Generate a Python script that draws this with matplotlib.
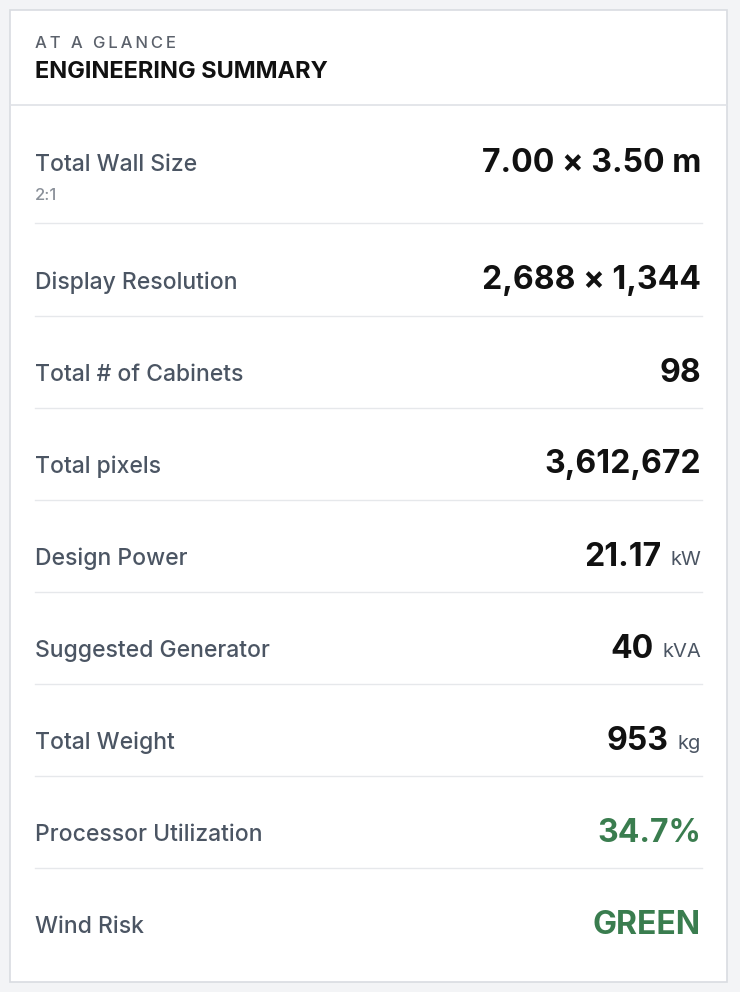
import matplotlib
matplotlib.use("Agg")
import matplotlib.pyplot as plt
from matplotlib.patches import Rectangle

kicker = "AT A GLANCE"
title = "ENGINEERING SUMMARY"
labels = ["Total Wall Size", "Display Resolution", "Total # of Cabinets", "Total pixels",
          "Design Power", "Suggested Generator", "Total Weight", "Processor Utilization", "Wind Risk"]
values = ["7.00 × 3.50 m", "2,688 × 1,344", "98", "3,612,672", "21.17", "40", "953", "34.7%", "GREEN"]
units = ["", "", "", "", "kW", "kVA", "kg", "", ""]
sublabels = ["2:1", "", "", "", "", "", "", "", ""]
highlight = [False] * 7 + [True, True]

W, H = 740, 992
fig = plt.figure(figsize=(W / 100, H / 100), dpi=100)
fig.patch.set_facecolor("#f3f4f6")
ax = fig.add_axes([0, 0, 1, 1])
ax.set_xlim(0, W); ax.set_ylim(H, 0); ax.axis("off")
ax.add_patch(Rectangle((10, 10), 717, 972, facecolor="white", edgecolor="#d9dce1", lw=1.2))
ax.plot([10, 727], [105, 105], color="#dfe2e6", lw=1.2)

FONT = "Inter"
ax.text(35, 43, "\u2009".join(kicker), fontsize=12, color="#5b616b", family=[FONT, "DejaVu Sans"],
        va="center", ha="left", fontweight="medium")
ax.text(35, 72, title, fontsize=17, color="#111111", family=FONT, fontweight="bold", va="center")

r = fig.canvas.get_renderer()
row_y = [165, 283, 375, 467, 559, 651, 743, 835, 927]
seps = [223, 316, 408, 500, 592, 684, 776, 868]
for s in seps:
    ax.plot([35, 702], [s, s], color="#e6e8eb", lw=1)

inv = ax.transData.inverted()
for i, lab in enumerate(labels):
    y = row_y[i]
    ax.text(35, y, lab, fontsize=16.5, color="#4b5563", family=FONT, va="center", fontweight="medium")
    if sublabels[i]:
        ax.text(35, y + 31, sublabels[i], fontsize=12, color="#8a9099", family=FONT, va="center", fontweight="medium")
    vy = y - 2
    xr = 701
    if units[i]:
        t = ax.text(xr, vy + 3, units[i], fontsize=14.5, color="#4b5563", family=FONT, va="center", ha="right")
        bb = t.get_window_extent(r)
        x0 = inv.transform((bb.x0, 0))[0]
        xr = x0 - 9
    col = "#3a7d4f" if highlight[i] else "#111111"
    ax.text(xr, vy, values[i], fontsize=23, color=col, family=FONT, fontweight="bold", va="center", ha="right")

fig.savefig("out.png", dpi=100, facecolor=fig.get_facecolor())
